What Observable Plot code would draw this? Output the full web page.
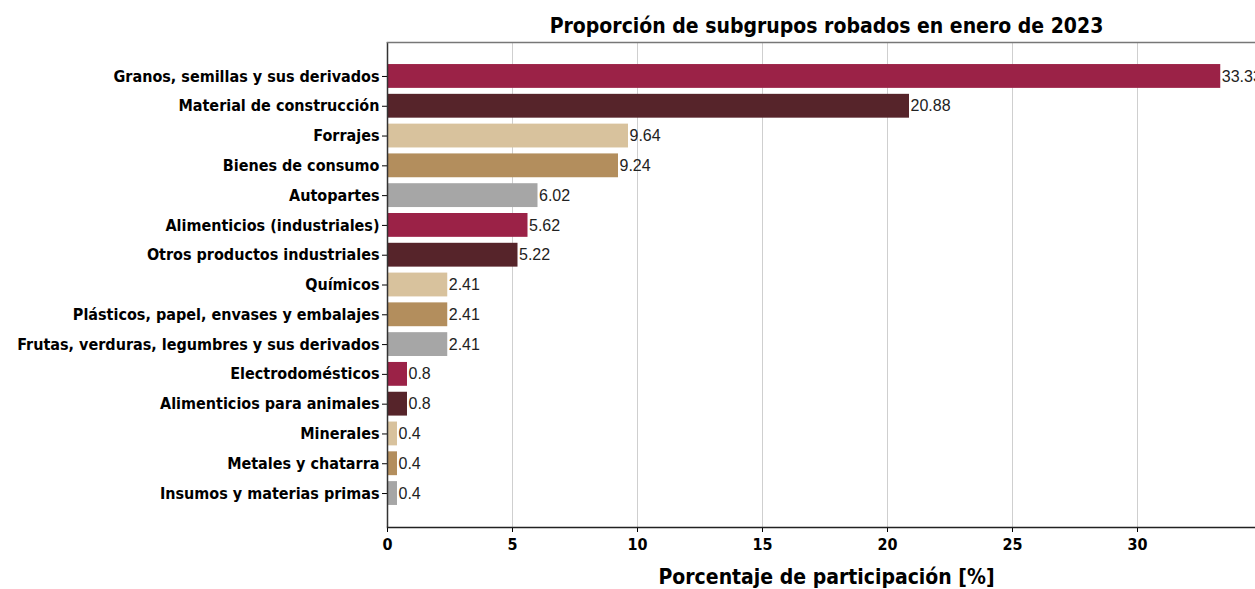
<!DOCTYPE html>
<html>
<head>
<meta charset="utf-8">
<script src="https://cdn.jsdelivr.net/npm/d3@7"></script>
<script src="https://cdn.jsdelivr.net/npm/@observablehq/plot@0.6"></script>
<style>
  html, body { margin: 0; padding: 0; background: #fff; }
  #chart svg { display: block; overflow: hidden; }
</style>
</head>
<body>
<div id="chart"></div>
<script>
const titleText = "Proporción de subgrupos robados en enero de 2023";
const xLabel = "Porcentaje de participación [%]";
const categories = [
  "Granos, semillas y sus derivados",
  "Material de construcción",
  "Forrajes",
  "Bienes de consumo",
  "Autopartes",
  "Alimenticios (industriales)",
  "Otros productos industriales",
  "Químicos",
  "Plásticos, papel, envases y embalajes",
  "Frutas, verduras, legumbres y sus derivados",
  "Electrodomésticos",
  "Alimenticios para animales",
  "Minerales",
  "Metales y chatarra",
  "Insumos y materias primas"
];
const values = [33.33, 20.88, 9.64, 9.24, 6.02, 5.62, 5.22, 2.41, 2.41, 2.41, 0.8, 0.8, 0.4, 0.4, 0.4];
const palette = ["#9B2247", "#56242A", "#D8C29D", "#B38E5D", "#A6A6A6"];
const xTicks = [0, 5, 10, 15, 20, 25, 30];

const data = categories.map((c, i) => ({category: c, value: values[i], color: palette[i % palette.length]}));

const boldFont = "'DejaVu Sans Condensed', 'DejaVu Sans', sans-serif";

const chart = Plot.plot({
  width: 1255,
  height: 589,
  marginLeft: 387,
  marginRight: 0,
  marginTop: 42,
  marginBottom: 62,
  style: {fontFamily: boldFont, background: "#fff", color: "#000"},
  x: {domain: [0, 34.72]},
  y: {domain: categories, paddingInner: 0.2, paddingOuter: 0.74, round: false},
  color: {type: "identity"},
  marks: [
    Plot.gridX(xTicks, {stroke: "#cfcfcf", strokeOpacity: 1, strokeWidth: 1}),
    Plot.barX(data, {x: "value", y: "category", fill: "color"}),
    Plot.text(data, {x: "value", y: "category", text: d => String(d.value), textAnchor: "start", dx: 1, fontSize: 16, fill: "#222", fontFamily: "'Liberation Sans', sans-serif"}),
    Plot.axisY({tickSize: 5, tickPadding: 3, fontSize: 16, fontWeight: "bold", label: null}),
    Plot.axisX({ticks: xTicks, tickSize: 5, tickPadding: 6, fontSize: 16, fontWeight: "bold", label: null}),
    Plot.ruleX([0], {stroke: "#333", strokeWidth: 1.5}),
    Plot.frame({anchor: "top", stroke: "#777", strokeWidth: 1.5}),
    Plot.frame({anchor: "bottom", stroke: "#222", strokeWidth: 1.5}),
    Plot.text([titleText], {frameAnchor: "top", lineAnchor: "middle", dy: -16, dx: 5, fontSize: 21, fontWeight: "bold", fill: "#000"}),
    Plot.text([xLabel], {frameAnchor: "bottom", lineAnchor: "middle", dy: 50, dx: 5, fontSize: 21, fontWeight: "bold", fill: "#000"})
  ]
});
document.getElementById("chart").appendChild(chart);
</script>
</body>
</html>
